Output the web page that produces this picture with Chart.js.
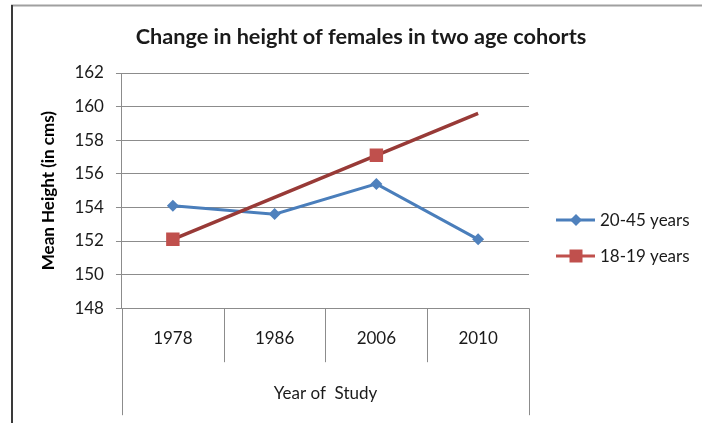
<!DOCTYPE html>
<html>
<head>
<meta charset="utf-8">
<script src="https://cdn.jsdelivr.net/npm/chart.js@4/dist/chart.umd.min.js"></script>
<style>
  html, body { margin: 0; padding: 0; background: #fff; }
  #wrap { position: relative; width: 702px; height: 423px; }
  canvas { display: block; }
</style>
</head>
<body>
<div id="wrap"><canvas id="c" width="702" height="423"></canvas></div>
<script>
// Study years and mean heights (cm) for each cohort
const years = ['1978', '1986', '2006', '2010'];
const older = [154.1, 153.6, 155.4, 152.1];       // 20-45 years
const teens = [152.1, null, 157.1, null];          // 18-19 years, measured points
const teensTrend = [152.1, 154.6, 157.1, 159.6];   // linear trend through the 18-19 cohort
const yTicks = [148, 150, 152, 154, 156, 158, 160, 162];

const chartTitle = 'Change in height of females in two age cohorts';

const FONT = 'Lato, "Liberation Sans", sans-serif';
const TEXT = '#1A1A1A';
const BLUE = '#4F81BD';
const BLUE_LINE = '#4A7EBB';
const RED = '#C0504D';
const TREND = '#983A37';
const AXIS_GREY = '#8C8C8C';

const legendOrder = ['20-45 years', '18-19 years'];
const lineColors = { '20-45 years': BLUE_LINE, '18-19 years': RED };

// Frame lines around the chart object, the chart title and the boxed category axis
const framePlugin = {
  id: 'frame',
  beforeDraw(chart) {
    const ctx = chart.ctx;
    ctx.save();
    ctx.fillStyle = '#fff';
    ctx.fillRect(0, 0, chart.width, chart.height);
    ctx.strokeStyle = '#A0A0A0';
    ctx.lineWidth = 2;
    ctx.beginPath();
    ctx.moveTo(11, 5.5); ctx.lineTo(chart.width, 5.5);
    ctx.stroke();
    ctx.strokeStyle = '#3A3A3A';
    ctx.beginPath();
    ctx.moveTo(12, 5); ctx.lineTo(12, chart.height);
    ctx.stroke();
    // title, centred over the whole chart object
    ctx.fillStyle = TEXT;
    ctx.font = 'bold 21.7px ' + FONT;
    ctx.textAlign = 'center';
    ctx.textBaseline = 'middle';
    ctx.fillText(chartTitle, 361, 37);
    ctx.restore();
  },
  afterDraw(chart) {
    const ctx = chart.ctx;
    const x = chart.scales.x;
    const bottom = chart.chartArea.bottom;
    const n = years.length;
    const half = (x.getPixelForValue(1) - x.getPixelForValue(0)) / 2;
    ctx.save();
    ctx.strokeStyle = AXIS_GREY;
    ctx.lineWidth = 1;
    for (let i = 0; i <= n; i++) {
      const px = Math.round(x.getPixelForValue(Math.min(i, n - 1)) + (i < n ? -half : half)) + 0.5;
      const len = (i === 0 || i === n) ? 107 : 54;
      ctx.beginPath();
      ctx.moveTo(px, bottom);
      ctx.lineTo(px, bottom + len);
      ctx.stroke();
    }
    ctx.restore();
  }
};

// Legend to the right of the plot: a line sample with the series marker, then the name
const sideLegend = {
  id: 'sideLegend',
  afterDraw(chart) {
    const ctx = chart.ctx;
    const area = chart.chartArea;
    const x0 = area.right + 27;
    const midY = (area.top + area.bottom) / 2;
    ctx.save();
    ctx.font = '17px ' + FONT;
    ctx.textBaseline = 'middle';
    ctx.textAlign = 'left';
    legendOrder.forEach((name, k) => {
      const ds = chart.data.datasets.find(d => d.label === name);
      const y = Math.round(midY + 29 + k * 36);
      ctx.strokeStyle = lineColors[name];
      ctx.lineWidth = 3;
      ctx.beginPath();
      ctx.moveTo(x0, y); ctx.lineTo(x0 + 39, y);
      ctx.stroke();
      ctx.fillStyle = ds.pointBackgroundColor;
      const cx = x0 + 20;
      ctx.beginPath();
      if (ds.pointStyle === 'rectRot') {
        const r = 6;
        ctx.moveTo(cx - r, y); ctx.lineTo(cx, y - r); ctx.lineTo(cx + r, y); ctx.lineTo(cx, y + r);
      } else {
        const s = 6.5;
        ctx.rect(cx - s, y - s, 2 * s, 2 * s);
      }
      ctx.closePath();
      ctx.fill();
      ctx.fillStyle = TEXT;
      ctx.fillText(name, x0 + 44, y + 1);
    });
    ctx.restore();
  }
};

const datasets = [
  {
    label: '18-19 years',
    data: teens,
    showLine: false,
    pointStyle: 'rect',
    pointRadius: 9.5,
    pointHoverRadius: 9.5,
    pointBackgroundColor: RED,
    pointBorderColor: RED,
    pointBorderWidth: 0,
    borderColor: RED,
    backgroundColor: RED
  },
  {
    label: 'Linear (18-19 years)',
    data: teensTrend,
    borderColor: TREND,
    borderWidth: 3.5,
    pointRadius: 0,
    pointHoverRadius: 0,
    fill: false,
    tension: 0
  },
  {
    label: '20-45 years',
    data: older,
    borderColor: BLUE_LINE,
    borderWidth: 3,
    pointStyle: 'rectRot',
    pointRadius: 6,
    pointHoverRadius: 6,
    pointBackgroundColor: BLUE,
    pointBorderColor: BLUE,
    pointBorderWidth: 0,
    fill: false,
    tension: 0
  }
];

new Chart(document.getElementById('c'), {
  type: 'line',
  data: { labels: years, datasets },
  plugins: [framePlugin, sideLegend],
  options: {
    responsive: false,
    animation: false,
    events: [],
    layout: { padding: { left: 38, right: 173, top: 73, bottom: 19 } },
    plugins: {
      tooltip: { enabled: false },
      legend: { display: false },
      title: { display: false }
    },
    scales: {
      x: {
        offset: true,
        grid: { display: false, drawTicks: false },
        border: { display: false },
        ticks: {
          color: TEXT,
          font: { family: FONT, size: 17 },
          padding: 20
        },
        title: {
          display: true,
          text: 'Year of  Study',
          color: TEXT,
          font: { family: FONT, size: 17 },
          padding: { top: 15, bottom: 0 }
        }
      },
      y: {
        min: 148,
        max: 162,
        afterBuildTicks(scale) {
          scale.ticks = yTicks.map(v => ({ value: v }));
        },
        grid: { color: AXIS_GREY, lineWidth: 1, tickLength: 6 },
        border: { display: true, color: AXIS_GREY, width: 1 },
        ticks: {
          color: TEXT,
          font: { family: FONT, size: 17 },
          padding: 12
        },
        title: {
          display: true,
          text: 'Mean Height (in cms)',
          color: '#000',
          font: { family: FONT, size: 17, weight: 'bold' },
          padding: { top: 0, bottom: 4 }
        }
      }
    }
  }
});
</script>
</body>
</html>
